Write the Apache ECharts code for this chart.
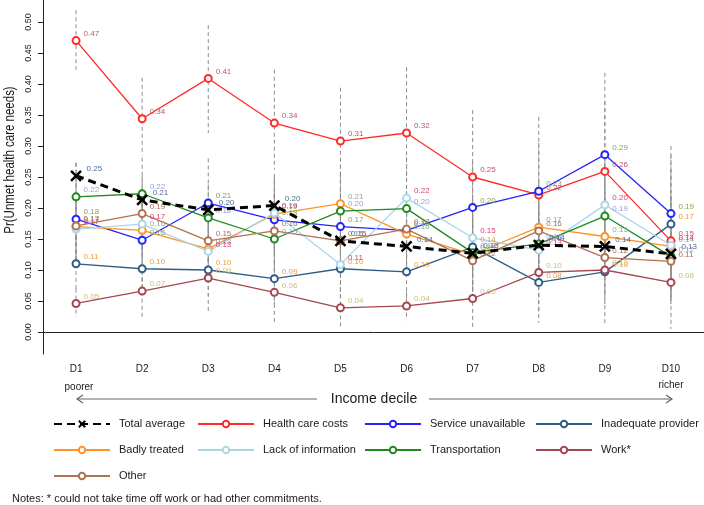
<!DOCTYPE html>
<html>
<head>
<meta charset="utf-8">
<script src="https://cdn.jsdelivr.net/npm/echarts@6/dist/echarts.min.js"></script>
<style>
  html, body { margin: 0; padding: 0; background: #fff; }
  #main { width: 704px; height: 505px; }
</style>
</head>
<body>
<div id="main"></div>
<script>
// deciles and tick labels
var deciles = ['D1', 'D2', 'D3', 'D4', 'D5', 'D6', 'D7', 'D8', 'D9', 'D10'];
var yTicks = [0, 0.05, 0.1, 0.15, 0.2, 0.25, 0.3, 0.35, 0.4, 0.45, 0.5];

// point estimates
var totalAvg   = [0.252, 0.213, 0.197, 0.204, 0.147, 0.138, 0.127, 0.140, 0.138, 0.126];
var healthCost = [0.470, 0.344, 0.409, 0.337, 0.308, 0.321, 0.250, 0.221, 0.259, 0.147];
var serviceUn  = [0.182, 0.148, 0.208, 0.181, 0.170, 0.164, 0.201, 0.227, 0.286, 0.191];
var inadequate = [0.110, 0.102, 0.100, 0.086, 0.102, 0.097, 0.137, 0.080, 0.097, 0.174];
var badly      = [0.170, 0.164, 0.134, 0.190, 0.207, 0.158, 0.125, 0.169, 0.154, 0.138];
var lackInfo   = [0.166, 0.174, 0.130, 0.192, 0.109, 0.216, 0.152, 0.132, 0.205, 0.140];
var transport  = [0.218, 0.223, 0.184, 0.150, 0.195, 0.199, 0.128, 0.142, 0.187, 0.122];
var work       = [0.046, 0.066, 0.087, 0.064, 0.039, 0.042, 0.054, 0.096, 0.100, 0.080];
var other      = [0.171, 0.191, 0.147, 0.163, 0.147, 0.166, 0.115, 0.163, 0.120, 0.114];

// confidence intervals (grey dashed bars)
var totalLo  = [0.232, 0.195, 0.178, 0.185, 0.130, 0.120, 0.108, 0.120, 0.118, 0.105];
var totalHi  = [0.273, 0.232, 0.216, 0.223, 0.165, 0.157, 0.146, 0.160, 0.158, 0.147];
var healthLo = [0.423, 0.285, 0.321, 0.262, 0.240, 0.250, 0.170, 0.140, 0.190, 0.050];
var healthHi = [0.519, 0.410, 0.495, 0.423, 0.394, 0.427, 0.358, 0.347, 0.418, 0.300];
var serviceLo = [0.120, 0.095, 0.140, 0.120, 0.110, 0.105, 0.130, 0.150, 0.200, 0.100];
var serviceHi = [0.245, 0.205, 0.280, 0.245, 0.232, 0.225, 0.275, 0.305, 0.372, 0.285];
var inadLo = [0.065, 0.060, 0.058, 0.045, 0.055, 0.055, 0.070, 0.030, 0.045, 0.085];
var inadHi = [0.155, 0.145, 0.142, 0.128, 0.150, 0.140, 0.205, 0.130, 0.150, 0.262];
var badlyLo = [0.115, 0.110, 0.085, 0.130, 0.145, 0.100, 0.065, 0.100, 0.090, 0.065];
var badlyHi = [0.225, 0.220, 0.185, 0.250, 0.270, 0.216, 0.185, 0.240, 0.218, 0.212];
var lackLo = [0.110, 0.118, 0.080, 0.130, 0.055, 0.150, 0.090, 0.070, 0.135, 0.060];
var lackHi = [0.222, 0.230, 0.180, 0.255, 0.163, 0.282, 0.214, 0.195, 0.275, 0.220];
var transLo = [0.163, 0.165, 0.130, 0.095, 0.135, 0.138, 0.070, 0.080, 0.120, 0.050];
var transHi = [0.273, 0.281, 0.238, 0.205, 0.255, 0.260, 0.186, 0.204, 0.254, 0.194];
var workLo = [0.024, 0.024, 0.032, 0.015, 0.008, 0.019, 0.005, 0.015, 0.011, 0.005];
var workHi = [0.070, 0.110, 0.142, 0.113, 0.072, 0.065, 0.105, 0.176, 0.190, 0.155];
var otherLo = [0.115, 0.130, 0.095, 0.105, 0.090, 0.105, 0.055, 0.095, 0.060, 0.045];
var otherHi = [0.227, 0.252, 0.199, 0.221, 0.204, 0.227, 0.175, 0.231, 0.180, 0.183];

var FONT = '"Liberation Sans", Arial, Helvetica, sans-serif';

var ciPairs = [
  [totalLo, totalHi], [healthLo, healthHi], [serviceLo, serviceHi], [inadLo, inadHi],
  [badlyLo, badlyHi], [lackLo, lackHi], [transLo, transHi], [workLo, workHi], [otherLo, otherHi]
];
var ciData = [];
ciPairs.forEach(function (p) {
  for (var i = 0; i < deciles.length; i++) ciData.push([i, p[0][i], p[1][i]]);
});

function lineSeries(name, data, color, labelColor) {
  return {
    name: name,
    type: 'line',
    data: data,
    symbol: 'emptyCircle',
    symbolSize: 7,
    itemStyle: { color: color, borderWidth: 1.8 },
    lineStyle: { color: color, width: 1.3 },
    label: {
      show: true, position: 'right', distance: 3, offset: [0, -7],
      fontSize: 8, fontFamily: FONT, color: labelColor,
      formatter: function (p) { return p.value.toFixed(2); }
    },
    z: 3
  };
}

var legendBase = {
  orient: 'vertical', top: 418, itemWidth: 56, itemHeight: 8, itemGap: 14,
  padding: 0, selectedMode: false,
  textStyle: { fontSize: 11, fontFamily: FONT, color: '#1a1a1a', lineHeight: 12, padding: [0, 0, 0, 4] }
};

var myChart = echarts.init(document.getElementById('main'), null, { renderer: 'canvas' });

var option = {
  animation: false,
  backgroundColor: '#fff',
  grid: { left: 43, right: 0, top: 0, bottom: 151 },
  xAxis: {
    type: 'category',
    data: deciles,
    boundaryGap: true,
    axisLine: { lineStyle: { color: '#222', width: 1 } },
    axisTick: { alignWithLabel: true, length: 5, lineStyle: { color: '#222' } },
    axisLabel: { fontSize: 10, fontFamily: FONT, color: '#1a1a1a', margin: 10 },
    splitLine: { show: false }
  },
  yAxis: {
    type: 'value',
    min: -0.0355,
    max: 0.5355,
    axisLine: { show: true, lineStyle: { color: '#222', width: 1 } },
    axisTick: { show: true, length: 5, customValues: yTicks, lineStyle: { color: '#222' } },
    axisLabel: {
      customValues: yTicks, rotate: 90, fontSize: 9, fontFamily: FONT, color: '#1a1a1a', margin: 10,
      formatter: function (v) { return v.toFixed(2); }
    },
    splitLine: { show: false }
  },
  legend: [
    Object.assign({}, legendBase, { left: 53, data: ['Total average', 'Badly treated', 'Other'] }),
    Object.assign({}, legendBase, { left: 197, data: ['Health care costs', 'Lack of information'] }),
    Object.assign({}, legendBase, { left: 364, data: ['Service unavailable', 'Transportation'] }),
    Object.assign({}, legendBase, { left: 535, data: ['Inadequate provider', 'Work*'] })
  ],
  series: [
    {
      type: 'custom',
      data: ciData,
      silent: true,
      z: 1,
      renderItem: function (params, api) {
        var top = api.coord([api.value(0), api.value(2)]);
        var bot = api.coord([api.value(0), api.value(1)]);
        return {
          type: 'line',
          shape: { x1: top[0], y1: top[1], x2: bot[0], y2: bot[1] },
          style: { stroke: '#8c8c8c', lineWidth: 1, lineDash: [4, 3] }
        };
      }
    },
    lineSeries('Health care costs', healthCost, '#ff2a2a', '#b55a6c'),
    lineSeries('Service unavailable', serviceUn, '#2424ff', '#8e9c56'),
    lineSeries('Inadequate provider', inadequate, '#2f5d87', '#ef9a3a'),
    lineSeries('Badly treated', badly, '#ff9326', '#90a895'),
    lineSeries('Lack of information', lackInfo, '#a9d7e8', '#d6436f'),
    lineSeries('Transportation', transport, '#1f8a1f', '#9c9ce0'),
    lineSeries('Work*', work, '#a54651', '#cbbd78'),
    lineSeries('Other', other, '#b0724f', '#ad6d50'),
    {
      name: 'Total average',
      type: 'line',
      data: totalAvg,
      symbol: 'path://M0,0L10,10M10,0L0,10',
      symbolSize: 10,
      itemStyle: { color: 'none', borderColor: '#000', borderWidth: 2.5 },
      lineStyle: { color: '#000', width: 3, type: [8, 5] },
      label: {
        show: true, position: 'right', distance: 3, offset: [0, -7],
        fontSize: 8, fontFamily: FONT, color: '#4e6d94',
        formatter: function (p) { return p.value.toFixed(2); }
      },
      z: 4
    }
  ],
  graphic: [
    {
      type: 'text', x: 10, y: 160, rotation: Math.PI / 2, scaleX: 0.82,
      style: { text: 'Pr(Unmet health care needs)', font: '14px ' + FONT,
               fill: '#1a1a1a', align: 'center', verticalAlign: 'middle' }
    },
    { type: 'text', x: 79, y: 387, style: { text: 'poorer', font: '10px ' + FONT, fill: '#1a1a1a', align: 'center', verticalAlign: 'middle' } },
    { type: 'text', x: 671, y: 385, style: { text: 'richer', font: '10px ' + FONT, fill: '#1a1a1a', align: 'center', verticalAlign: 'middle' } },
    { type: 'text', x: 374, y: 399, style: { text: 'Income decile', font: '14px ' + FONT, fill: '#1a1a1a', align: 'center', verticalAlign: 'middle' } },
    { type: 'line', shape: { x1: 77, y1: 399, x2: 317, y2: 399 }, style: { stroke: '#666', lineWidth: 1.2 } },
    { type: 'polyline', shape: { points: [[83, 395], [77, 399], [83, 403]] }, style: { stroke: '#666', lineWidth: 1.2, fill: null } },
    { type: 'line', shape: { x1: 429, y1: 399, x2: 672, y2: 399 }, style: { stroke: '#666', lineWidth: 1.2 } },
    { type: 'polyline', shape: { points: [[666, 395], [672, 399], [666, 403]] }, style: { stroke: '#666', lineWidth: 1.2, fill: null } },
    { type: 'text', x: 12, y: 499, style: { text: 'Notes: * could not take time off work or had other commitments.', font: '11px ' + FONT,
      fill: '#1a1a1a', align: 'left', verticalAlign: 'middle' } }
  ]
};
myChart.setOption(option);
</script>
</body>
</html>
